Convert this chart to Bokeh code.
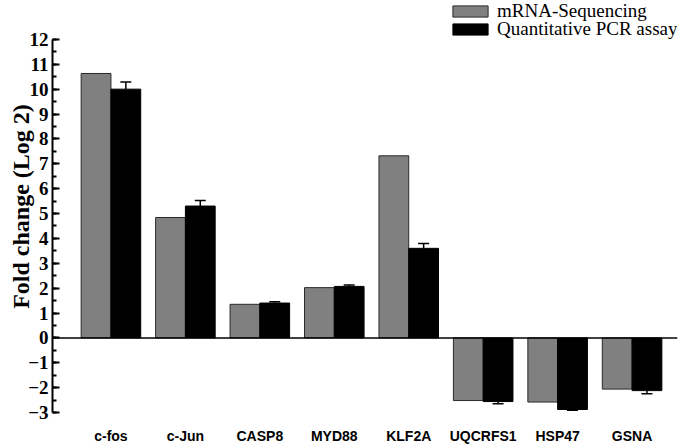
from bokeh.plotting import figure
from bokeh.models import (ColumnDataSource, Range1d, SingleIntervalTicker, FixedTicker,
                          Span, Whisker, TeeHead, Legend, LegendItem)
from bokeh.embed import file_html
from bokeh.resources import INLINE

genes = ["c-fos", "c-Jun", "CASP8", "MYD88", "KLF2A", "UQCRFS1", "HSP47", "GSNA"]
mrna_seq = [10.63, 4.84, 1.35, 2.02, 7.32, -2.52, -2.58, -2.06]
qpcr = [10.0, 5.3, 1.4, 2.07, 3.6, -2.56, -2.88, -2.12]
qpcr_err = [0.29, 0.22, 0.05, 0.06, 0.19, 0.09, 0.03, 0.13]
y_ticks = list(range(-3, 13))

pos = list(range(len(genes)))
src = ColumnDataSource(dict(
    x1=[p - 0.2 for p in pos], x2=[p + 0.2 for p in pos],
    m=mrna_seq, q=qpcr,
))
up_x = [p + 0.2 for p, v in zip(pos, qpcr) if v >= 0]
up_lo = [v for v in qpcr if v >= 0]
up_hi = [v + e for v, e in zip(qpcr, qpcr_err) if v >= 0]
dn_x = [p + 0.2 for p, v in zip(pos, qpcr) if v < 0]
dn_hi = [v for v in qpcr if v < 0]
dn_lo = [v - e for v, e in zip(qpcr, qpcr_err) if v < 0]

# frame spans page y 0..413; the axis itself (-3..12) spans y 39..413
FRAME_H = 413
AXIS_PX = 374
y_top = y_ticks[-1] + (y_ticks[-1] - y_ticks[0]) * (FRAME_H - AXIS_PX) / AXIS_PX

p = figure(width=685, height=446, output_backend="svg", toolbar_location=None,
           x_range=Range1d(-0.785, 7.61), y_range=Range1d(y_ticks[0], y_top),
           min_border_left=52, min_border_right=8, min_border_top=0, min_border_bottom=33)
p.outline_line_color = None
p.xgrid.visible = False
p.ygrid.visible = False

r1 = p.vbar(x="x1", top="m", bottom=0, width=0.4, source=src,
            fill_color="#808080", line_color="#2a2a2a", line_width=1)
r2 = p.vbar(x="x2", top="q", bottom=0, width=0.4, source=src,
            fill_color="#000000", line_color="#000000", line_width=1)

w1 = Whisker(source=ColumnDataSource(dict(x=up_x, lo=up_lo, hi=up_hi)),
             base="x", lower="lo", upper="hi", line_color="black", line_width=1.5,
             upper_head=TeeHead(size=11, line_color="black", line_width=1.5), lower_head=None)
w2 = Whisker(source=ColumnDataSource(dict(x=dn_x, lo=dn_lo, hi=dn_hi)),
             base="x", lower="lo", upper="hi", line_color="black", line_width=1.5,
             lower_head=TeeHead(size=11, line_color="black", line_width=1.5), upper_head=None)
p.add_layout(w1)
p.add_layout(w2)

p.add_layout(Span(location=0, dimension="width", line_color="black", line_width=1.5))

# y axis
ya = p.yaxis[0]
ya.bounds = (y_ticks[0], y_ticks[-1])
ya.ticker = SingleIntervalTicker(interval=1, num_minor_ticks=2)
ya.axis_line_width = 2
ya.axis_line_color = "black"
ya.major_tick_in = 7
ya.major_tick_out = 0
ya.minor_tick_in = 4
ya.minor_tick_out = 0
ya.major_tick_line_width = 2
ya.minor_tick_line_width = 2
ya.major_label_text_font = "Liberation Serif"
ya.major_label_text_font_style = "bold"
ya.major_label_text_font_size = "19px"
ya.major_label_text_color = "black"
ya.major_label_standoff = 4
ya.axis_label = "Fold change (Log 2)"
ya.axis_label_text_font = "Liberation Serif"
ya.axis_label_text_font_style = "bold"
ya.axis_label_text_font_size = "24px"
ya.axis_label_text_color = "black"
ya.axis_label_standoff = -9

# x axis
xa = p.xaxis[0]
xa.ticker = FixedTicker(ticks=pos)
xa.major_label_overrides = {i: g for i, g in enumerate(genes)}
xa.axis_line_color = None
xa.major_tick_line_color = None
xa.minor_tick_line_color = None
xa.major_tick_in = 0
xa.major_tick_out = 0
xa.major_label_text_font = "Liberation Sans"
xa.major_label_text_font_style = "bold"
xa.major_label_text_font_size = "14px"
xa.major_label_text_color = "black"
xa.major_label_standoff = 15

common = dict(orientation="vertical", glyph_width=44, glyph_height=14, label_height=14,
              spacing=0, padding=0, margin=0, border_line_color=None,
              background_fill_alpha=0, label_text_font="Liberation Serif",
              label_text_font_size="19px", label_text_color="black", label_standoff=5)
# legend location = bottom-left corner, measured from the frame's bottom-left
legend1 = Legend(items=[LegendItem(label="mRNA-Sequencing", renderers=[r1])],
                 location=(396, FRAME_H - 23), **common)
legend2 = Legend(items=[LegendItem(label="Quantitative PCR assay", renderers=[r2])],
                 location=(396, FRAME_H - 41), **common)
p.add_layout(legend1)
p.add_layout(legend2)

open("out.html", "w").write(file_html(p, INLINE))
